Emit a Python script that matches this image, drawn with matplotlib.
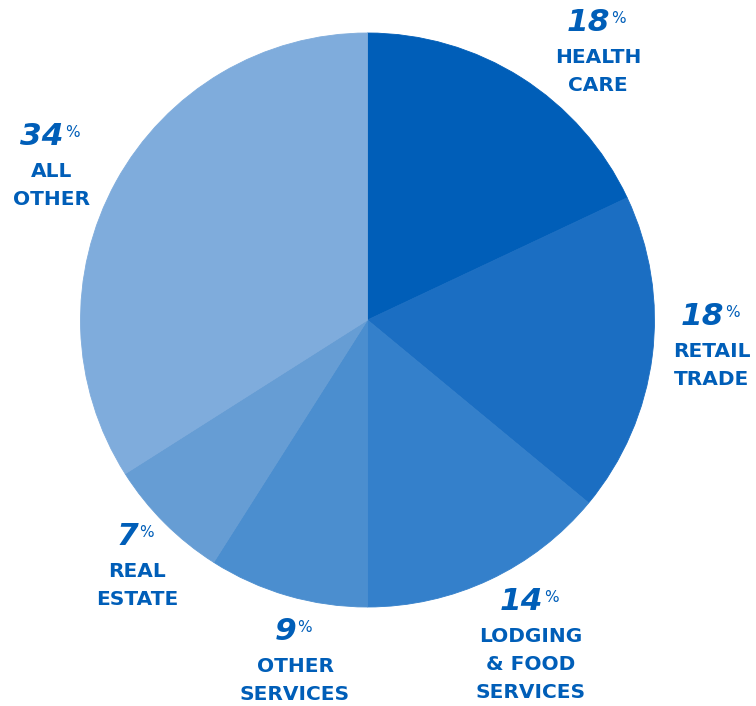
import matplotlib.pyplot as plt

# ======================
# DATA
# ======================
categories = ["HEALTH\nCARE", "RETAIL\nTRADE", "LODGING\n& FOOD\nSERVICES",
              "OTHER\nSERVICES", "REAL\nESTATE", "ALL\nOTHER"]
shares = [18, 18, 14, 9, 7, 34]
colors = ["#005EB8", "#1B6EC2", "#3480CB", "#4B8ECF", "#669DD4", "#7FACDC"]

# label anchors in pixels (centre x, baseline y of the number, from top)
label_pos = [(598, 31), (712, 325), (531, 610), (295, 640), (137, 545), (52, 145)]

W, H = 756, 706
TXT = "#005EB8"

fig = plt.figure(figsize=(W / 100, H / 100), dpi=100)
ax = fig.add_axes([0, 0, 1, 1])

wedges, _ = ax.pie(shares, colors=colors, startangle=90, counterclock=False,
                   center=(367.5, H - 320), radius=287, frame=True,
                   wedgeprops=dict(linewidth=0.6, antialiased=True))
for w, c in zip(wedges, colors):
    w.set_edgecolor(c)
ax.set_xlim(0, W)
ax.set_ylim(0, H)
ax.axis("off")

# ======================
# LABELS
# ======================
for lab, val, (cx, by) in zip(categories, shares, label_pos):
    nd = len(str(val))
    xr = cx + (nd * 21 - 18) / 2
    y = H - by
    ax.text(xr, y, str(val), ha="right", va="baseline", fontsize=22.5,
            fontweight="bold", fontstyle="italic", color=TXT)
    ax.text(xr + 1, y + 8, "%", ha="left", va="baseline", fontsize=11,
            color=TXT)
    for i, line in enumerate(lab.split("\n")):
        ax.text(cx, y - 32 - 28 * i, line, ha="center", va="baseline",
                fontsize=14.5, fontweight="bold", color=TXT)

fig.savefig("out.png", dpi=100)
